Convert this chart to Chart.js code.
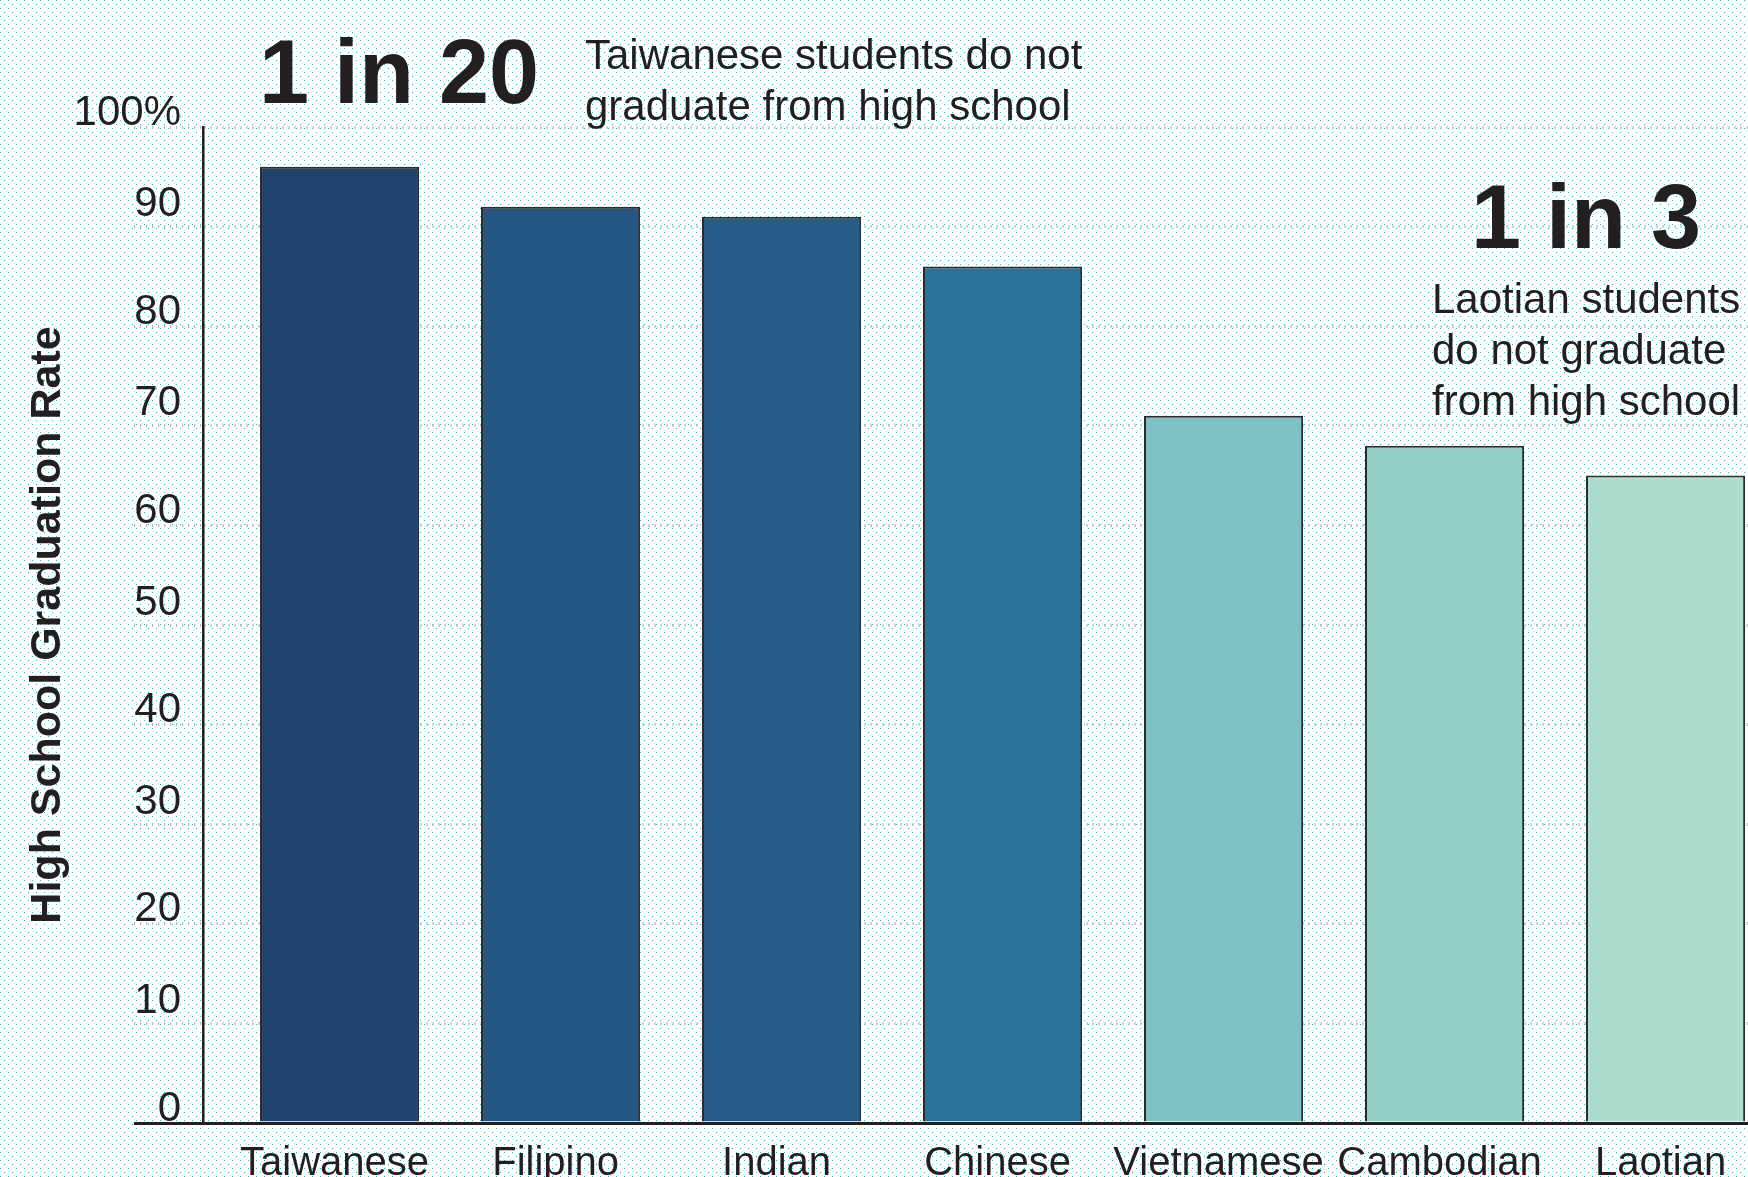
<!DOCTYPE html>
<html lang="en">
<head>
  <meta charset="UTF-8" />
  <title>High School Graduation Rate</title>
  <script src="https://cdn.jsdelivr.net/npm/chart.js"></script>
  <style>
    html, body { margin: 0; padding: 0; overflow: hidden; background: #fff; }
    canvas { display: block; }
  </style>
</head>
<body>
  <canvas id="chart" width="1748" height="1177"></canvas>

  <script>
    // data
    const categories = ['Taiwanese', 'Filipino', 'Indian', 'Chinese', 'Vietnamese', 'Cambodian', 'Laotian'];
    const gradRates = [96, 92, 91, 86, 71, 68, 65];
    const barColors = ['#21446f', '#245784', '#265b87', '#2a7399', '#7dc1c4', '#92cfc6', '#acdccd'];
    const yTickLabels = ['0', '10', '20', '30', '40', '50', '60', '70', '80', '90', '100%'];

    const ink = '#231f20';
    const gridGrey = '#b8b8b8';
    Chart.defaults.font.family = '"Liberation Sans", Arial, Helvetica, sans-serif';
    Chart.defaults.color = ink;

    // dotted cyan paper behind everything
    const dotPaper = {
      id: 'dotPaper',
      beforeDraw(chart) {
        const tile = document.createElement('canvas');
        tile.width = 8; tile.height = 8;
        const t = tile.getContext('2d');
        t.fillStyle = '#ffffff';
        t.fillRect(0, 0, 8, 8);
        t.fillStyle = '#3aaebd';
        t.fillRect(0, 0, 1, 1);
        t.fillRect(4, 4, 1, 1);
        const ctx = chart.ctx;
        ctx.save();
        ctx.fillStyle = ctx.createPattern(tile, 'repeat');
        ctx.fillRect(0, 0, chart.width, chart.height);
        ctx.restore();
      }
    };

    // the two "1 in N" call-outs
    const callouts = {
      id: 'callouts',
      afterDraw(chart) {
        const ctx = chart.ctx;
        const ff = Chart.defaults.font.family;
        ctx.save();
        ctx.fillStyle = ink;
        ctx.textBaseline = 'alphabetic';
        ctx.textAlign = 'left';

        ctx.font = 'bold 90px ' + ff;
        ctx.fillText('1 in 20', 259, 103);
        ctx.fillText('1 in 3', 1471, 248);

        ctx.font = '42px ' + ff;
        ctx.fillText('Taiwanese students do not', 585, 69);
        ctx.fillText('graduate from high school', 585, 120);

        ctx.fillText('Laotian students', 1432, 313);
        ctx.fillText('do not graduate', 1432, 364);
        ctx.fillText('from high school', 1432, 415);
        ctx.restore();
      }
    };

    const isZero = (c) => c.tick && c.tick.value === 0;

    const ctx = document.getElementById('chart').getContext('2d');
    const chart = new Chart(ctx, {
      type: 'bar',
      data: {
        datasets: [{
          label: 'High School Graduation Rate',
          data: gradRates.map((v, i) => ({ x: i, y: v })),
          backgroundColor: barColors,
          borderColor: '#2b2b2b',
          borderWidth: 2,
        }],
      },
      options: {
        responsive: false,
        animation: false,
        layout: { padding: { top: 127, right: 0, left: 0, bottom: 0 } },
        plugins: {
          legend: { display: false },
          tooltip: { enabled: false },
        },
        scales: {
          x: {
            type: 'linear',
            bounds: 'data',
            offset: false,
            min: -0.618,
            max: 6.373,
            grid: { display: false, drawTicks: false, offset: false },
            border: { display: true, color: ink, width: 3 },
            ticks: {
              autoSkip: false,
              maxRotation: 0,
              minRotation: 0,
              padding: 17,
              labelOffset: -5,
              font: { size: 40 },
              color: ink,
              callback: (v) => categories[Math.round(v)] ?? '',
            },
            // one tick per bar
            afterBuildTicks: (scale) => {
              scale.ticks = categories.map((c, i) => ({ value: i }));
            },
            afterFit: (scale) => {
              scale.height = 54;
              scale.paddingLeft = 0;
              scale.paddingRight = 0;
            },
          },
          y: {
            min: 0,
            max: 100,
            grid: {
              color: (c) => isZero(c) ? ink : gridGrey,
              lineWidth: 3,
              drawTicks: true,
              tickLength: 69,
              tickColor: (c) => isZero(c) ? ink : gridGrey,
              tickWidth: 3,
              tickBorderDash: (c) => isZero(c) ? [] : [1.2, 4.8],
            },
            border: {
              display: true,
              color: ink,
              width: 2.5,
              dash: (c) => isZero(c) ? [] : [1.2, 4.8],
            },
            ticks: {
              stepSize: 10,
              autoSkip: false,
              padding: -47,
              // labels sit above their grid line; every other one a bit higher
              font: (c) => ({ size: 42, lineHeight: c.tick && c.tick.value % 20 === 0 ? 0.67 : 1.05 }),
              color: ink,
              callback: (v) => [yTickLabels[Math.round(v / 10)], ''],
            },
            title: {
              display: true,
              text: 'High School Graduation Rate',
              font: { size: 43, weight: 'bold' },
              color: ink,
              padding: { top: 22, bottom: 0 },
            },
            afterFit: (scale) => { scale.width = 203; },
          },
        },
      },
      plugins: [dotPaper, callouts],
    });
  </script>
</body>
</html>
